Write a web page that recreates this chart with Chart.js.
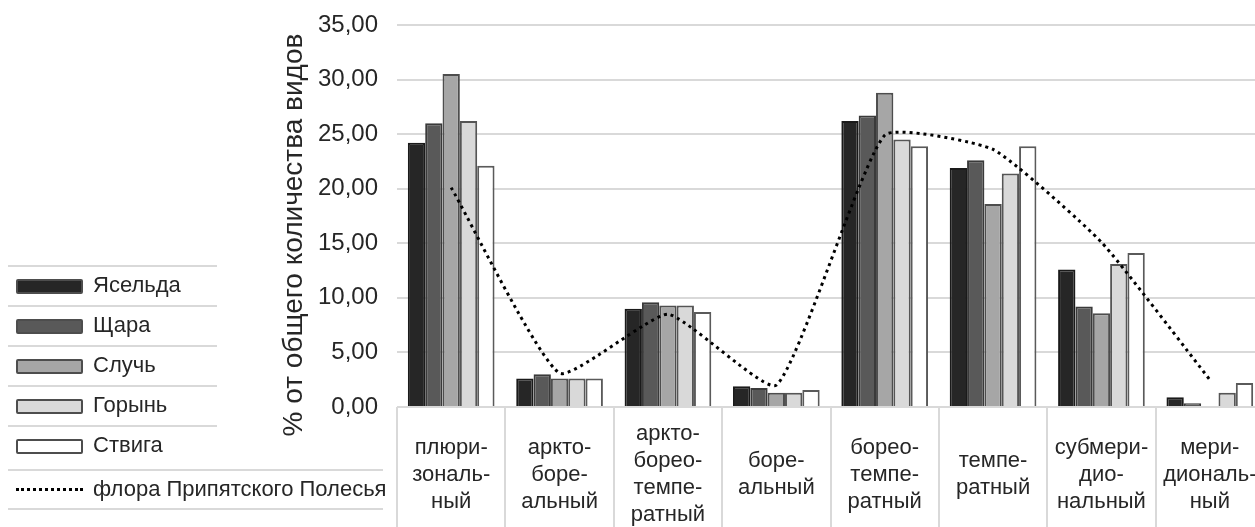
<!DOCTYPE html>
<html>
<head>
<meta charset="utf-8">
<script src="https://cdn.jsdelivr.net/npm/chart.js@4.4.1/dist/chart.umd.min.js"></script>
<style>
  html, body { margin: 0; padding: 0; background: #fff; }
  #wrap { position: relative; width: 1255px; height: 527px; overflow: hidden; }
  #myChart { position: absolute; left: 0; top: 0; }
  #legend { position: absolute; left: 0; top: 0; width: 260px; height: 527px;
            font-family: "Liberation Sans", Arial, sans-serif; font-size: 22px; color: #262626; }
  .row { position: absolute; left: 8px; height: 40px; border-top: 2px solid #d9d9d9; }
  .row .box { position: absolute; left: 8px; top: 12px; width: 63px; height: 11px;
              border: 2px solid #4d4d4d; border-radius: 2px; }
  .row .dots { position: absolute; left: 8px; top: 17px; width: 67px; height: 0;
               border-top: 3px dotted #000; }
  .row span { position: absolute; left: 85px; top: 5px; white-space: nowrap; }
</style>
</head>
<body>
<div id="wrap">
  <canvas id="myChart" width="1264" height="527"></canvas>
  <div id="legend"></div>
</div>
<script>
const categories = [
    ['плюри-', 'зональ-', 'ный'],
    ['аркто-', 'боре-', 'альный'],
    ['аркто-', 'борео-', 'темпе-', 'ратный'],
    ['боре-', 'альный'],
    ['борео-', 'темпе-', 'ратный'],
    ['темпе-', 'ратный'],
    ['субмери-', 'дио-', 'нальный'],
    ['мери-', 'диональ-', 'ный']
];

const seriesNames = ['Ясельда', 'Щара', 'Случь', 'Горынь', 'Ствига'];
const yaselda = [24.2, 2.6, 9.0, 1.9, 26.2, 21.9, 12.6, 0.9];
const shchara = [26.0, 3.0, 9.6, 1.75, 26.7, 22.6, 9.2, 0.35];
const sluch = [30.5, 2.6, 9.3, 1.3, 28.8, 18.6, 8.6, 0.1];
const goryn = [26.2, 2.6, 9.3, 1.3, 24.5, 21.4, 13.1, 1.3];
const stviga = [22.1, 2.6, 8.7, 1.55, 23.9, 23.9, 14.1, 2.2];

const floraName = 'флора Припятского Полесья';
const flora = [20.1, 3.1, 8.5, 2.0, 24.9, 23.6, 15.1, 2.5];

const yTicks = [0, 5, 10, 15, 20, 25, 30, 35];
const yTitle = '% от общего количества видов';

const barColors = ['#262626', '#595959', '#a6a6a6', '#d9d9d9', '#ffffff'];
const barBorders = ['#1a1a1a', '#3a3a3a', '#4d4d4d', '#555555', '#5a5a5a'];
const barValues = [yaselda, shchara, sluch, goryn, stviga];

const FONT = '"Liberation Sans", Arial, sans-serif';
const ctx = document.getElementById('myChart');

const datasets = barValues.map((vals, i) => ({
    type: 'bar',
    label: seriesNames[i],
    data: vals,
    backgroundColor: barColors[i],
    borderColor: barBorders[i],
    borderWidth: 2,
    barPercentage: 1,
    categoryPercentage: 0.8,
    order: 1
}));

datasets.push({
    type: 'line',
    label: floraName,
    data: flora,
    borderColor: '#000',
    borderWidth: 3,
    borderDash: [3, 4],
    tension: 0.15,
    pointRadius: 0,
    fill: false,
    order: 0
});

// y title sits a bit below the axis middle in the original, so draw it here
const yTitlePlugin = {
    id: 'yTitle',
    afterDraw(c) {
        const g = c.ctx;
        g.save();
        g.translate(302, 235);
        g.rotate(-Math.PI / 2);
        g.font = '28px ' + FONT;
        g.fillStyle = '#262626';
        g.textAlign = 'center';
        g.textBaseline = 'alphabetic';
        g.fillText(yTitle, 0, 0);
        g.restore();
    }
};

const chart = new Chart(ctx, {
    data: { labels: categories, datasets: datasets },
    plugins: [yTitlePlugin],
    options: {
        responsive: false,
        animation: false,
        layout: { padding: { left: 276, top: 25, right: 0, bottom: 0 } },
        plugins: { legend: { display: false }, tooltip: { enabled: false } },
        scales: {
            x: {
                offset: true,
                grid: { drawOnChartArea: false, tickLength: 120, color: '#d9d9d9', lineWidth: 2 },
                border: { display: false },
                ticks: {
                    autoSkip: false, maxRotation: 0, minRotation: 0,
                    padding: -93, crossAlign: 'center',
                    color: '#262626',
                    font: { family: FONT, size: 22, lineHeight: 1.23 }
                },
                afterFit: (s) => { s.height = 120; }
            },
            y: {
                min: 0, max: 35,
                afterBuildTicks: (s) => { s.ticks = yTicks.map(v => ({ value: v })); },
                grid: { drawTicks: false, color: '#d9d9d9', lineWidth: 2 },
                border: { display: false },
                ticks: {
                    padding: 19,
                    color: '#262626',
                    font: { family: FONT, size: 24 },
                    callback: (v) => v.toFixed(2).replace('.', ',')
                },
                afterFit: (s) => {
                    s.width = 397 - 276;
                    s.paddingTop = 0;
                    s.paddingBottom = 0;
                }
            }
        }
    }
});

// legend built from the datasets
function buildLegend() {
    const legend = document.getElementById('legend');
    const top = 265;
    chart.data.datasets.forEach((ds, i) => {
        const row = document.createElement('div');
        row.className = 'row';
        if (ds.type === 'bar') {
            row.style.top = (top + i * 40) + 'px';
            row.style.width = '209px';
            const box = document.createElement('div');
            box.className = 'box';
            box.style.background = ds.backgroundColor;
            row.appendChild(box);
        } else {
            row.style.top = '469px';
            row.style.width = '375px';
            row.style.height = '37px';
            row.style.borderBottom = '2px solid #d9d9d9';
            const d = document.createElement('div');
            d.className = 'dots';
            row.appendChild(d);
        }
        const t = document.createElement('span');
        t.textContent = ds.label;
        row.appendChild(t);
        legend.appendChild(row);
    });
}

buildLegend();
</script>
</body>
</html>
